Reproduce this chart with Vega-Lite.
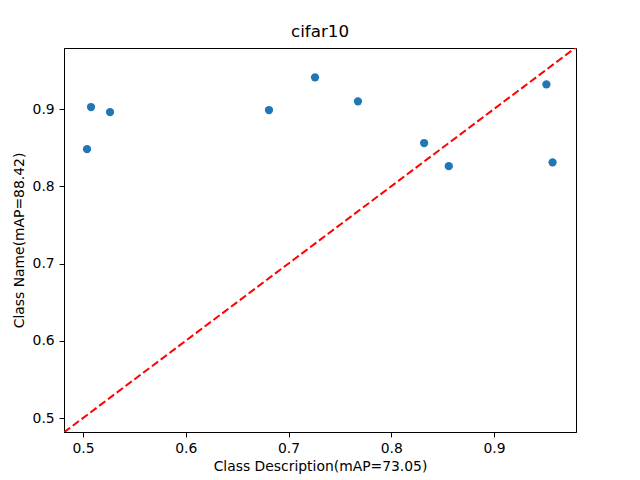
{
  "$schema": "https://vega.github.io/schema/vega-lite/v6.json",
  "width": 512,
  "height": 384,
  "autosize": {"type": "none"},
  "padding": {"left": 64, "top": 48, "right": 64, "bottom": 48},
  "background": "white",
  "config": {
    "font": "DejaVu Sans",
    "view": {"stroke": "black", "strokeWidth": 1},
    "axis": {
      "grid": false,
      "domainColor": "black",
      "tickColor": "black",
      "tickSize": 4.9,
      "labelColor": "black",
      "labelFontSize": 13.9,
      "labelFont": "DejaVu Sans",
      "titleFont": "DejaVu Sans",
      "titleFontSize": 13.9,
      "titleFontWeight": "normal",
      "titleColor": "black",
      "labelPadding": 4.9
    }
  },
  "title": {"text": "cifar10", "fontSize": 16.7, "fontWeight": "normal", "font": "DejaVu Sans", "color": "black", "offset": 7},
  "layer": [
    {
      "data": {"values": [
        {"x": 0.4815, "y": 0.4815},
        {"x": 0.9798, "y": 0.9798}
      ]},
      "mark": {"type": "line", "color": "red", "strokeWidth": 2, "strokeDash": [7.7, 3.3], "clip": true},
      "encoding": {
        "x": {"field": "x", "type": "quantitative"},
        "y": {"field": "y", "type": "quantitative"}
      }
    },
    {
      "data": {"values": [
        {"desc": 0.5039, "name": 0.848},
        {"desc": 0.5078, "name": 0.9026},
        {"desc": 0.5263, "name": 0.896},
        {"desc": 0.681, "name": 0.8987},
        {"desc": 0.7258, "name": 0.941},
        {"desc": 0.7676, "name": 0.910},
        {"desc": 0.832, "name": 0.856},
        {"desc": 0.856, "name": 0.826},
        {"desc": 0.951, "name": 0.932},
        {"desc": 0.957, "name": 0.831}
      ]},
      "mark": {"type": "point", "filled": true, "shape": "circle", "size": 68, "color": "#1f77b4", "opacity": 1},
      "encoding": {
        "x": {"field": "desc", "type": "quantitative",
              "scale": {"domain": [0.4815, 0.9798], "nice": false, "zero": false},
              "axis": {"title": "Class Description(mAP=73.05)", "values": [0.5, 0.6, 0.7, 0.8, 0.9], "format": ".1f", "titlePadding": 4}},
        "y": {"field": "name", "type": "quantitative",
              "scale": {"domain": [0.4819, 0.979], "nice": false, "zero": false},
              "axis": {"title": "Class Name(mAP=88.42)", "values": [0.5, 0.6, 0.7, 0.8, 0.9], "format": ".1f", "titlePadding": 6}}
      }
    }
  ]
}
